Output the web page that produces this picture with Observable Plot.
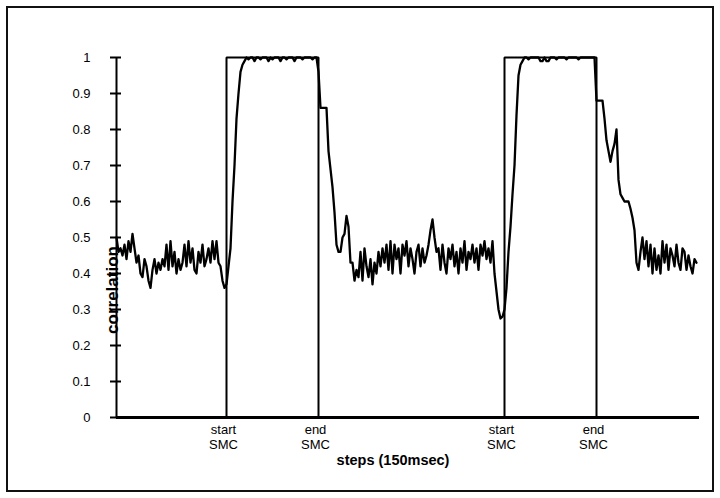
<!DOCTYPE html>
<html><head><meta charset="utf-8">
<script src="https://cdn.jsdelivr.net/npm/d3@7"></script>
<script src="https://cdn.jsdelivr.net/npm/@observablehq/plot@0.6"></script>
<style>
body{margin:0;background:#fff;}
#wrap{position:relative;width:720px;height:498px;overflow:hidden;background:#fff;}
#border{position:absolute;left:6px;top:6px;width:704px;height:482px;border:2px solid #111;pointer-events:none;}
#ytitle{position:absolute;left:112px;top:290px;transform:translate(-50%,-50%) rotate(-90deg);font:bold 17px 'Liberation Sans', Arial, sans-serif;color:#000;white-space:nowrap;line-height:1;}
</style></head><body><div id="wrap"><div id="border"></div><div id="ytitle"></div></div>
<script>
// correlation per step (150 msec each), steps 0..290
const correlation = [
0.50,0.46,0.47,0.45,0.48,0.44,0.49,0.46,0.51,0.47,
0.43,0.45,0.40,0.39,0.44,0.42,0.38,0.36,0.41,0.44,
0.40,0.43,0.41,0.44,0.42,0.48,0.41,0.49,0.42,0.46,
0.40,0.44,0.41,0.43,0.48,0.42,0.49,0.43,0.47,0.41,
0.40,0.46,0.43,0.48,0.42,0.44,0.47,0.43,0.49,0.44,
0.49,0.43,0.42,0.38,0.36,0.37,0.42,0.47,0.60,0.70,
0.83,0.90,0.96,0.98,0.99,1,0.995,1,1,0.99,
1,1,0.995,1,1,1,0.99,1,0.995,1,
1,1,0.99,1,1,0.995,1,1,1,0.99,
1,1,1,0.995,1,1,1,1,0.995,1,
1,0.96,0.86,0.86,0.86,0.86,0.74,0.69,0.64,0.57,
0.48,0.46,0.46,0.50,0.51,0.56,0.53,0.43,0.43,0.38,
0.41,0.39,0.46,0.38,0.47,0.42,0.39,0.44,0.37,0.43,
0.40,0.46,0.42,0.47,0.43,0.48,0.41,0.49,0.40,0.48,
0.44,0.47,0.40,0.48,0.45,0.49,0.42,0.47,0.44,0.40,
0.46,0.48,0.42,0.47,0.43,0.45,0.48,0.52,0.55,0.50,
0.46,0.47,0.41,0.48,0.43,0.40,0.47,0.44,0.48,0.42,
0.46,0.40,0.47,0.43,0.49,0.41,0.46,0.44,0.48,0.43,
0.47,0.41,0.48,0.45,0.49,0.44,0.47,0.43,0.49,0.40,
0.35,0.30,0.275,0.28,0.30,0.36,0.46,0.53,0.62,0.70,
0.84,0.95,0.98,0.99,1,1,0.995,1,1,1,
1,1,0.99,0.99,1,0.99,0.99,1,1,1,
0.995,1,1,1,1,0.995,1,1,1,1,
1,0.995,1,1,1,1,1,1,1,1,
0.88,0.88,0.88,0.88,0.83,0.77,0.74,0.71,0.74,0.76,
0.80,0.66,0.62,0.61,0.60,0.60,0.60,0.58,0.555,0.52,
0.43,0.41,0.46,0.50,0.44,0.49,0.42,0.48,0.40,0.47,
0.41,0.45,0.40,0.49,0.43,0.48,0.41,0.47,0.45,0.42,
0.48,0.43,0.41,0.47,0.46,0.41,0.45,0.42,0.40,0.44,0.43
];
const smcStart = [55, 194];
const smcEnd = [101, 240];
const labelSteps = [55, 101, 194, 240];
const labelTexts = ["start\nSMC", "end\nSMC", "start\nSMC", "end\nSMC"];
const yTicks = [0, 0.1, 0.2, 0.3, 0.4, 0.5, 0.6, 0.7, 0.8, 0.9, 1];
const xDomain = [0, 291.5];
const xTitle = "steps (150msec)";
const yTitle = "correlation";

const corrData = correlation.map((v, i) => ({step: i, v}));
const lastStep = correlation.length - 1;
const pulse = [{step: 0, v: 0}];
smcStart.forEach((s, i) => {
  pulse.push({step: s, v: 0}, {step: s, v: 1}, {step: smcEnd[i], v: 1}, {step: smcEnd[i], v: 0});
});
pulse.push({step: lastStep, v: 0});
const labels = labelSteps.map((s, i) => ({step: s, label: labelTexts[i]}));

const font = "'Liberation Sans', Arial, sans-serif";
const chart = Plot.plot({
  width: 720, height: 498,
  marginLeft: 116, marginRight: 21, marginTop: 57, marginBottom: 81,
  style: {fontFamily: font, background: "transparent", color: "#000"},
  x: {domain: xDomain, axis: null},
  y: {domain: [0, 1], axis: null},
  marks: [
    Plot.axisY(yTicks, {tickSize: 0, tickPadding: 26, tickFormat: d => String(d), fontSize: 13, label: null, fill: "#000"}),
    Plot.axisY(yTicks, {tickSize: 11, dx: 5, tickFormat: () => "", strokeWidth: 2, stroke: "#000", label: null}),
    Plot.ruleX([xDomain[0]], {y1: 0, y2: 1, stroke: "#000", strokeWidth: 2}),
    Plot.line(pulse, {x: "step", y: "v", stroke: "#000", strokeWidth: 2, strokeLinejoin: "miter"}),
    Plot.line(corrData, {x: "step", y: "v", stroke: "#000", strokeWidth: 2.3}),
    Plot.ruleY([0], {x1: xDomain[0], x2: xDomain[1], stroke: "#000", strokeWidth: 3}),
    Plot.text(labels, {x: "step", text: "label", frameAnchor: "bottom", lineAnchor: "top", dy: 6, dx: -3, lineHeight: 1.15, fontSize: 13, fill: "#000"}),
    Plot.text([xTitle], {frameAnchor: "bottom", dy: 47, dx: -15, fontWeight: "bold", fontSize: 14.5, fill: "#000"})
  ]
});
document.getElementById("wrap").prepend(chart);
document.getElementById("ytitle").textContent = yTitle;
</script></body></html>
